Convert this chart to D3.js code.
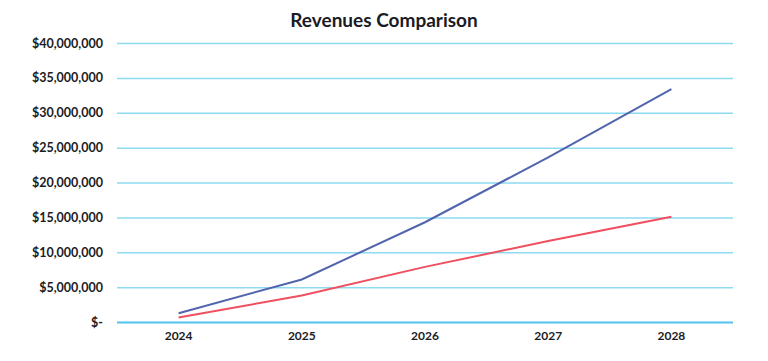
<!DOCTYPE html>
<html><head><meta charset="utf-8">
<script src="https://cdn.jsdelivr.net/npm/d3@7"></script>
<style>body{margin:0;background:#fff}svg{display:block}</style>
</head><body>
<svg id="c" width="768" height="361"></svg>
<script>
const years = ["2024","2025","2026","2027","2028"];
const seriesA = [1250000, 6100000, 14300000, 23600000, 33400000];
const seriesB = [650000, 3800000, 7900000, 11600000, 15100000];
const yTicks = [0,5000000,10000000,15000000,20000000,25000000,30000000,35000000,40000000];

(function(){
const svg = d3.select("#c");
const mLeft = 117, mRight = 733, mTop = 43, mBottom = 322;
const x = d3.scaleBand().domain(years).range([mLeft, mRight]);
const y = d3.scaleLinear().domain([0, 40000000]).range([mBottom, mTop]);
const fmt = v => v === 0 ? "$-" : "$" + d3.format(",")(v);
const ff = "Lato, 'Noto Sans', sans-serif";

svg.append("text").attr("x", 384).attr("y", 27).attr("text-anchor","middle")
  .attr("font-family",ff).attr("font-weight","bold")
  .attr("font-size", 19).attr("fill","#1b1b24").text("Revenues Comparison");

const yAxis = svg.append("g").attr("transform", `translate(${mLeft},0)`)
  .call(d3.axisLeft(y).tickValues(yTicks).tickFormat(fmt).tickSize(-(mRight-mLeft)).tickPadding(14));
yAxis.select(".domain").remove();
yAxis.selectAll(".tick line").attr("stroke", d => d === 0 ? "#4fc3ec" : "#8edbf1").attr("stroke-width", d => d===0 ? 2 : 1.5);
yAxis.selectAll(".tick text").attr("font-family",ff).attr("font-weight","bold")
  .attr("font-size", 12.5).attr("fill","#1b1b24");

const xAxis = svg.append("g").attr("transform", `translate(0,${mBottom})`)
  .call(d3.axisBottom(x).tickSize(0).tickPadding(9));
xAxis.select(".domain").remove();
xAxis.selectAll(".tick text").attr("font-family",ff).attr("font-weight","bold")
  .attr("font-size", 12).attr("fill","#1b1b24");

const line = d3.line().x((d,i) => x(years[i]) + x.bandwidth()/2).y(d => y(d));
svg.append("path").datum(seriesB).attr("d", line).attr("fill","none").attr("stroke","#ef4f5f").attr("stroke-width",2);
svg.append("path").datum(seriesA).attr("d", line).attr("fill","none").attr("stroke","#5164ae").attr("stroke-width",2);
})();
</script>
</body></html>
